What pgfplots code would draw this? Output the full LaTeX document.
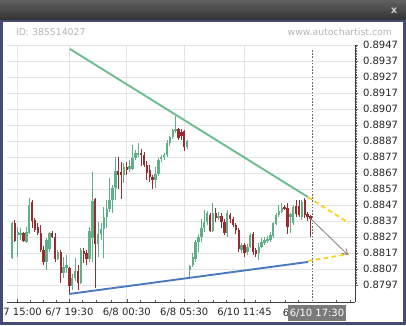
\documentclass[border=0pt]{standalone}
\usepackage{fontspec}
\setmainfont{DejaVu Sans}
\usepackage{pgfplots}
\usepackage{pgfplotstable}
\pgfplotsset{compat=1.18}
\usetikzlibrary{arrows.meta}
\definecolor{cgreen}{HTML}{5FB088}
\definecolor{cred}{HTML}{9B2B2E}
\definecolor{lgreen}{HTML}{6DBB8E}
\definecolor{lblue}{HTML}{4A78BF}
\definecolor{lyellow}{HTML}{FFD21F}
\definecolor{frameblue}{HTML}{454B75}
\definecolor{gridc}{HTML}{E3E3E3}
\definecolor{wm}{HTML}{B4B4B4}

\pgfplotstableread{
k o h l c
0 0.88139 0.88364 0.88132 0.88357
2 0.88282 0.88332 0.88145 0.88301
3 0.88282 0.88326 0.88251 0.88295
5 0.88239 0.88332 0.88232 0.88301
6 0.88295 0.88514 0.88289 0.88470
12 0.88114 0.88264 0.88064 0.88251
13 0.88195 0.88301 0.88176 0.88295
16 0.88132 0.88189 0.88126 0.88176
18 0.88045 0.88145 0.88014 0.88082
19 0.88076 0.88157 0.88045 0.88095
21 0.87964 0.88039 0.87939 0.88014
22 0.88014 0.88139 0.87995 0.88057
24 0.87982 0.88201 0.87976 0.88189
27 0.88132 0.88332 0.88114 0.88307
28 0.88264 0.88676 0.88114 0.88495
30 0.88226 0.88364 0.88145 0.88289
31 0.88289 0.88357 0.88251 0.88320
32 0.88320 0.88457 0.88139 0.88395
33 0.88395 0.88501 0.88326 0.88445
34 0.88445 0.88639 0.88426 0.88501
35 0.88501 0.88595 0.88420 0.88576
36 0.88576 0.88770 0.88501 0.88682
39 0.88657 0.88732 0.88607 0.88707
41 0.88695 0.88751 0.88676 0.88714
42 0.88695 0.88845 0.88689 0.88764
43 0.88764 0.88814 0.88751 0.88795
44 0.88782 0.88857 0.88770 0.88795
50 0.88626 0.88707 0.88576 0.88664
51 0.88664 0.88764 0.88651 0.88751
52 0.88757 0.88782 0.88739 0.88770
53 0.88770 0.88795 0.88751 0.88782
54 0.88782 0.88876 0.88770 0.88857
55 0.88857 0.88901 0.88839 0.88895
56 0.88895 0.88945 0.88882 0.88939
57 0.88932 0.89026 0.88920 0.88945
61 0.88832 0.88876 0.88820 0.88870
62 0.88064 0.88095 0.88020 0.88089
63 0.88095 0.88170 0.88082 0.88145
64 0.88132 0.88251 0.88114 0.88239
65 0.88239 0.88289 0.88176 0.88270
66 0.88270 0.88382 0.88239 0.88326
67 0.88326 0.88439 0.88301 0.88364
68 0.88364 0.88432 0.88345 0.88420
70 0.88307 0.88482 0.88301 0.88420
72 0.88389 0.88426 0.88376 0.88401
75 0.88295 0.88439 0.88270 0.88420
80 0.88189 0.88232 0.88170 0.88220
82 0.88176 0.88226 0.88157 0.88207
83 0.88207 0.88295 0.88201 0.88282
86 0.88170 0.88232 0.88126 0.88207
87 0.88207 0.88264 0.88201 0.88239
88 0.88232 0.88270 0.88220 0.88251
89 0.88245 0.88276 0.88232 0.88257
90 0.88251 0.88301 0.88239 0.88282
91 0.88276 0.88364 0.88264 0.88357
92 0.88351 0.88420 0.88345 0.88407
93 0.88407 0.88470 0.88395 0.88432
94 0.88426 0.88482 0.88420 0.88451
97 0.88395 0.88420 0.88295 0.88414
98 0.88357 0.88470 0.88345 0.88457
101 0.88395 0.88501 0.88376 0.88489
}\up

\pgfplotstableread{
k o h l c
1 0.88357 0.88376 0.88239 0.88245
4 0.88295 0.88301 0.88239 0.88245
7 0.88489 0.88501 0.88326 0.88370
8 0.88376 0.88389 0.88301 0.88314
9 0.88332 0.88357 0.88282 0.88295
10 0.88295 0.88345 0.88176 0.88189
11 0.88189 0.88214 0.88095 0.88114
14 0.88295 0.88307 0.88264 0.88270
15 0.88270 0.88295 0.88114 0.88132
17 0.88176 0.88189 0.87982 0.88045
20 0.88076 0.88082 0.87907 0.87964
23 0.88057 0.88095 0.87939 0.87982
25 0.88182 0.88201 0.88107 0.88164
26 0.88170 0.88189 0.88095 0.88132
29 0.88507 0.88514 0.87951 0.88226
37 0.88682 0.88770 0.88570 0.88657
38 0.88676 0.88739 0.88507 0.88657
40 0.88707 0.88739 0.88657 0.88689
45 0.88795 0.88820 0.88714 0.88782
46 0.88782 0.88801 0.88707 0.88720
47 0.88720 0.88745 0.88626 0.88670
48 0.88689 0.88720 0.88614 0.88645
49 0.88645 0.88657 0.88570 0.88626
58 0.88945 0.88951 0.88876 0.88889
59 0.88926 0.88945 0.88876 0.88901
60 0.88932 0.88939 0.88807 0.88832
69 0.88407 0.88420 0.88301 0.88307
71 0.88420 0.88451 0.88364 0.88389
73 0.88401 0.88420 0.88326 0.88364
74 0.88364 0.88382 0.88282 0.88295
76 0.88407 0.88420 0.88357 0.88382
77 0.88382 0.88395 0.88332 0.88345
78 0.88345 0.88357 0.88289 0.88314
79 0.88314 0.88326 0.88176 0.88195
81 0.88220 0.88232 0.88145 0.88170
84 0.88289 0.88301 0.88157 0.88176
85 0.88189 0.88201 0.88145 0.88164
95 0.88457 0.88470 0.88439 0.88445
96 0.88451 0.88482 0.88289 0.88332
99 0.88464 0.88501 0.88395 0.88414
100 0.88464 0.88501 0.88395 0.88407
102 0.88501 0.88514 0.88389 0.88407
103 0.88414 0.88426 0.88370 0.88395
104 0.88401 0.88407 0.88270 0.88382
}\down

\pgfplotsset{
  candle/.style 2 args={only marks, mark=*, mark size=0pt, mark options={draw=none, fill=none},
    color=#1, error bars/.cd, y dir=both, y explicit, error mark=none,
    error bar style={draw=#1, line width=#2}},
}

\begin{document}
\begin{tikzpicture}
\fill[white] (0,0) rectangle (304.5pt,-243.75pt);
\begin{axis}[
  at={(5.25pt,-226.5pt)}, anchor=south west,
  width=261pt, height=192.75pt, scale only axis,
  xmin=-1.742, xmax=119.51, ymin=0.8786375, ymax=0.8947,
  axis x line*=bottom, axis y line*=right,
  axis line style={black!75, line width=0.75pt},
  clip=false,
  xtick={2,20,40,60,81},
  xticklabels={6/7 15:00,6/7 19:30,6/8 00:30,6/8 05:30,6/10 11:45},
  minor xtick={6.5,11,15.3,24.6,29.2,34.5,44.6,49.8,55.3,64.9,70.1,74.8,84.7,89.9,95.2,99.8,113.1,117.8},
  xtick align=inside,
  ytick={0.8797,0.8807,0.8817,0.8827,0.8837,0.8847,0.8857,0.8867,0.8877,0.8887,0.8897,0.8907,0.8917,0.8927,0.8937,0.8947},
  yticklabels={0.8797,0.8807,0.8817,0.8827,0.8837,0.8847,0.8857,0.8867,0.8877,0.8887,0.8897,0.8907,0.8917,0.8927,0.8937,0.8947},
  minor y tick num=9,
  ytick align=outside,
  major tick length=2.5pt, minor tick length=1.5pt,
  tick style={black!65, line width=0.4pt},
  grid=major, major grid style={gridc, line width=0.75pt},
  ticklabel style={font=\fontsize{7.5}{9}\selectfont, text=black!85},
  xticklabel style={yshift=-1.2pt},
  yticklabel style={anchor=west, xshift=0pt},
]
% wicks
\addplot[candle={cgreen}{0.7pt}]
  table[x=k, y expr={(\thisrow{h}+\thisrow{l})/2}, y error expr={(\thisrow{h}-\thisrow{l})/2}] {\up};
\addplot[candle={cred}{0.7pt}]
  table[x=k, y expr={(\thisrow{h}+\thisrow{l})/2}, y error expr={(\thisrow{h}-\thisrow{l})/2}] {\down};
% bodies
\addplot[candle={cgreen}{1.8pt}]
  table[x=k, y expr={(\thisrow{o}+\thisrow{c})/2}, y error expr={(\thisrow{c}-\thisrow{o})/2}] {\up};
\addplot[candle={cred}{1.8pt}]
  table[x=k, y expr={(\thisrow{o}+\thisrow{c})/2}, y error expr={(\thisrow{o}-\thisrow{c})/2}] {\down};
% current time line
\addplot[black!60, line width=0.6pt, dash pattern=on 1.2pt off 1.2pt] coordinates {(104.5,0.89439) (104.5,0.8786375)};
% pattern lines
\addplot[lgreen, line width=1.4pt] coordinates {(20.2,0.89445) (103.1,0.88520)};
\addplot[lblue, line width=1.4pt] coordinates {(19.9,0.87914) (103.1,0.88114)};
\addplot[lyellow, line width=1.4pt, dash pattern=on 3.5pt off 2.5pt] coordinates {(103.1,0.88520) (117.4,0.88357)};
\addplot[lyellow, line width=1.4pt, dash pattern=on 3.5pt off 2.5pt] coordinates {(103.1,0.88120) (117.4,0.88164)};
\addplot[black!50, line width=0.6pt, -{Straight Barb[length=4pt,width=5pt]}] coordinates {(103.8,0.88389) (117.1,0.88157)};
\end{axis}
% partially hidden label and highlight
\node[font=\fontsize{7.5}{9}\selectfont, text=black!85] at (232.5pt,-234.75pt) {6/10 17:15};
\node[fill=black!52, text=white, font=\fontsize{7.5}{9}\selectfont, minimum width=43.5pt, minimum height=12pt, inner sep=0pt] at (237.75pt,-234.75pt) {6/10 17:30};
% watermarks
\node[anchor=west, text=wm, font=\fontsize{7}{8}\selectfont] at (8.5pt,-24pt) {ID: 385514027};
\node[anchor=east, text=wm, font=\fontsize{7}{8}\selectfont] at (297.5pt,-24pt) {www.autochartist.com};
% frame
\fill[frameblue] (0,0) rectangle (2.25pt,-243.75pt);
\fill[frameblue] (302.25pt,0) rectangle (304.5pt,-243.75pt);
\fill[frameblue] (0,-241.5pt) rectangle (304.5pt,-243.75pt);
\fill[frameblue] (0,-14.5pt) rectangle (304.5pt,-16.5pt);
\shade[top color=black!62, bottom color=black!80] (0,0) rectangle (304.5pt,-14.5pt);
\node[text=black!20, font=\bfseries\fontsize{7.5}{9}\selectfont] at (295.5pt,-8.25pt) {x};
\pgfresetboundingbox
\path[use as bounding box] (0,0) rectangle (304.5pt,-243.75pt);
\end{tikzpicture}
\end{document}
